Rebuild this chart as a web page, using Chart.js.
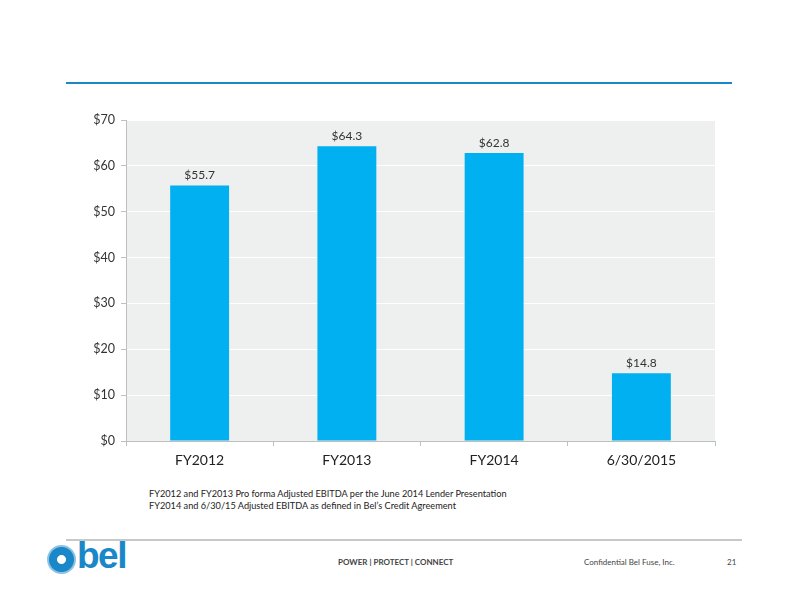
<!DOCTYPE html>
<html>
<head>
<meta charset="utf-8">
<script src="https://cdn.jsdelivr.net/npm/chart.js@4/dist/chart.umd.min.js"></script>
<style>
  body { margin: 0; width: 792px; height: 612px; background: #fff; position: relative; font-family: Lato, "Open Sans", sans-serif; overflow: hidden; }
  .abs { position: absolute; }
  #chartBox { left: 66px; top: 105px; width: 660px; height: 370px; }
  .note { left: 149px; font-size: 9.2px; color: #222; }
  .foot { top: 557px; font-size: 8px; color: #444; }
</style>
</head>
<body>
<div class="abs" style="left:66px;top:82px;width:666px;height:2px;background:#1a87c9"></div>
<div class="abs" id="chartBox"><canvas id="ebitda-chart"></canvas></div>
<div class="abs note" style="top:488px">FY2012 and FY2013 Pro forma Adjusted EBITDA per the June 2014 Lender Presentation</div>
<div class="abs note" style="top:500px">FY2014 and 6/30/15 Adjusted EBITDA as defined in Bel’s Credit Agreement</div>
<div class="abs" style="left:66px;top:539px;width:676px;height:2px;background:#c8c8c8"></div>
<div class="abs" style="left:47px;top:545px;width:29px;height:29px;border-radius:50%;background:radial-gradient(circle, #fff 0 4px, #1a87c9 5px 12px, rgba(26,135,201,0.5) 13px 14.5px)"></div>
<div class="abs" style="left:77px;top:535px;font-family:'Liberation Sans',Arial,sans-serif;font-weight:bold;font-size:37px;color:#1a87c9;letter-spacing:-1.5px">bel</div>
<div class="abs foot" style="left:338px;font-weight:bold">POWER | PROTECT | CONNECT</div>
<div class="abs foot" style="left:584px">Confidential Bel Fuse, Inc.</div>
<div class="abs foot" style="left:727px">21</div>
<script>
let categories = ['FY2012', 'FY2013', 'FY2014', '6/30/2015']
let ebitda = [55.7, 64.3, 62.8, 14.8]
let yMin = 0
let yMax = 70
let yStep = 10

// grey fill behind the plot area
let plotBackground = {
    id: 'plotBackground',
    beforeDraw(chart) {
        let a = chart.chartArea
        let ctx = chart.ctx
        ctx.save()
        ctx.fillStyle = '#eeefef'
        ctx.fillRect(a.left, a.top, a.right - a.left, a.bottom - a.top)
        ctx.restore()
    }
}

// "$55.7" labels above bars
let barLabels = {
    id: 'barLabels',
    afterDatasetsDraw(chart) {
        let ctx = chart.ctx
        let meta = chart.getDatasetMeta(0)
        ctx.save()
        ctx.font = '12px Lato, "Open Sans", sans-serif'
        ctx.fillStyle = '#333'
        ctx.textAlign = 'center'
        ctx.textBaseline = 'bottom'
        meta.data.forEach(function (bar, i) {
            ctx.fillText('$' + ebitda[i].toFixed(1), bar.x, bar.y - 4)
        })
        ctx.restore()
    }
}

let canvas = document.querySelector('#ebitda-chart')
let chart = new Chart(canvas.getContext('2d'), {
    type: 'bar',
    data: {
        labels: categories,
        datasets: [{
            data: ebitda,
            backgroundColor: '#00b0f0',
            barPercentage: 0.8,
            categoryPercentage: 0.5
        }]
    },
    options: {
        responsive: true,
        maintainAspectRatio: false,
        animation: false,
        layout: { padding: { top: 15, right: 11, left: 0, bottom: 0 } },
        plugins: { legend: { display: false }, tooltip: { enabled: false } },
        scales: {
            x: {
                grid: { offset: true, drawOnChartArea: false, tickLength: 5, tickColor: '#bfbfbf' },
                border: { color: '#bfbfbf' },
                ticks: { color: '#222', font: { size: 14, family: 'Lato' }, padding: 6 },
                afterFit(axis) { axis.height = 34 }
            },
            y: {
                min: yMin,
                max: yMax,
                grid: { color: '#ffffff', tickLength: 5, tickColor: '#bfbfbf' },
                border: { color: '#bfbfbf' },
                ticks: {
                    stepSize: yStep,
                    color: '#333',
                    font: { size: 12.5, family: 'Lato' },
                    padding: 6,
                    callback: function (v) { return '$' + v }
                },
                afterFit(axis) { axis.width = 60 }
            }
        }
    },
    plugins: [plotBackground, barLabels]
})
</script>
</body>
</html>
